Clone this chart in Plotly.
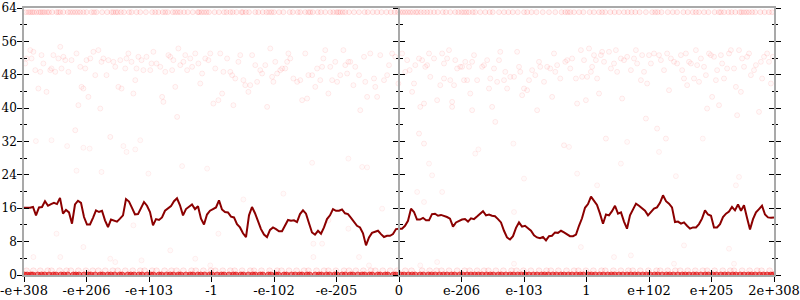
import numpy as np
import plotly.graph_objects as go

tick_pos = list(range(13))
tick_text = ["-e+308", "-e+206", "-e+103", "-1", "-e-102", "-e-205", "0",
             "e-206", "e-103", "1", "e+102", "e+205", "2e+308"]
y_ticks = [0, 8, 16, 24, 32, 40, 48, 56, 64]

line_vals = [
    16.1, 16.1, 16.1, 16.3, 14.3, 16.2, 16.3, 17.7, 16.6, 17.0,
    17.3, 17.0, 18.5, 14.7, 15.6, 15.0, 12.3, 16.9, 17.8, 17.3,
    13.9, 12.1, 12.1, 13.7, 15.5, 15.1, 15.4, 13.1, 11.5, 13.3,
    13.1, 12.8, 13.5, 14.3, 18.2, 17.6, 16.1, 14.5, 14.6, 16.2,
    17.5, 16.6, 15.1, 11.9, 13.4, 13.2, 13.8, 15.4, 15.9, 16.5,
    17.7, 18.4, 16.7, 14.3, 15.8, 16.4, 16.9, 15.8, 16.5, 13.5,
    12.1, 14.5, 15.4, 15.8, 16.2, 17.9, 15.7, 15.1, 15.0, 14.0,
    13.8, 12.2, 11.4, 10.0, 9.1, 14.3, 16.3, 14.8, 13.0, 11.0,
    9.7, 9.1, 10.8, 11.4, 11.0, 10.5, 10.5, 11.9, 13.2, 13.0,
    13.1, 12.7, 14.6, 15.5, 14.7, 12.4, 10.2, 9.7, 10.6, 9.9,
    11.4, 13.4, 14.3, 15.8, 15.4, 15.4, 15.7, 14.8, 14.6, 13.7,
    12.7, 11.8, 11.4, 10.0, 7.1, 9.0, 10.1, 10.3, 10.6, 9.8,
    9.1, 9.4, 9.4, 9.8, 11.0, 11.1, 11.1, 11.8, 13.0, 15.9,
    15.1, 13.3, 13.3, 13.7, 13.1, 13.1, 14.6, 14.7, 14.2, 14.4,
    14.2, 13.9, 13.5, 11.6, 12.6, 13.0, 13.3, 13.4, 12.8, 13.6,
    13.4, 14.0, 14.7, 15.3, 14.3, 14.5, 14.2, 14.1, 13.4, 12.6,
    10.6, 9.0, 8.5, 9.3, 11.3, 12.6, 11.6, 11.8, 11.2, 10.6,
    9.5, 9.0, 8.8, 9.1, 8.3, 9.3, 9.4, 10.2, 10.1, 10.6,
    10.2, 9.8, 9.3, 9.3, 9.7, 11.8, 13.6, 16.1, 17.0, 18.8,
    17.7, 16.8, 14.7, 12.3, 14.5, 14.3, 15.3, 16.6, 14.7, 15.0,
    12.8, 11.1, 14.3, 15.7, 17.1, 16.6, 15.9, 15.4, 14.3, 15.0,
    15.9, 16.2, 17.3, 19.1, 17.7, 17.1, 16.2, 12.7, 12.8, 12.3,
    12.6, 11.8, 11.1, 11.4, 11.4, 12.2, 13.5, 15.5, 14.5, 14.2,
    11.4, 11.4, 12.2, 13.9, 14.7, 15.2, 16.3, 15.5, 16.9, 15.4,
    16.7, 13.7, 10.9, 13.4, 15.0, 15.8, 16.6, 14.5, 13.8, 13.7, 13.8,
]

top_band_x = [
    0.03, 0.07, 0.1, 0.13, 0.16, 0.2, 0.24, 0.27, 0.3, 0.33, 0.37, 0.4, 0.45, 0.52, 0.55, 0.58,
    0.63, 0.7, 0.74, 0.78, 0.82, 0.86, 0.9, 0.95, 1.0, 1.08, 1.12, 1.16, 1.25, 1.33, 1.4, 1.43,
    1.47, 1.5, 1.55, 1.6, 1.68, 1.72, 1.8, 1.86, 1.95, 2.05, 2.1, 2.15, 2.22, 2.26, 2.3, 2.38,
    2.42, 2.46, 2.5, 2.56, 2.62, 2.7, 2.78, 2.8, 2.84, 2.88, 2.92, 2.96, 3.05, 3.12, 3.2, 3.24,
    3.3, 3.34, 3.4, 3.48, 3.5, 3.55, 3.6, 3.7, 3.75, 3.82, 3.88, 3.92, 3.96, 4.0, 4.08, 4.15,
    4.25, 4.3, 4.38, 4.42, 4.5, 4.55, 4.58, 4.62, 4.7, 4.75, 4.82, 4.9, 4.95, 5.0, 5.03, 5.06,
    5.1, 5.14, 5.2, 5.28, 5.36, 5.45, 5.5, 5.58, 5.65, 5.72, 5.8, 5.87, 5.93, 5.98,
    6.02, 6.06, 6.1, 6.14, 6.18, 6.22, 6.27, 6.3, 6.35, 6.4, 6.45, 6.5, 6.56, 6.62, 6.7, 6.75,
    6.82, 6.9, 6.95, 7.0, 7.04, 7.08, 7.12, 7.18, 7.22, 7.3, 7.38, 7.45, 7.5, 7.6, 7.68, 7.75,
    7.82, 7.9, 8.0, 8.05, 8.12, 8.2, 8.3, 8.4, 8.5, 8.6, 8.66, 8.7, 8.74, 8.8, 8.88, 8.95,
    9.05, 9.12, 9.2, 9.25, 9.3, 9.38, 9.45, 9.52, 9.6, 9.66, 9.72, 9.78, 9.85, 9.95, 10.05, 10.1,
    10.14, 10.2, 10.3, 10.38, 10.45, 10.55, 10.62, 10.7, 10.75, 10.8, 10.88, 10.95, 11.05, 11.12,
    11.15, 11.2, 11.27, 11.32, 11.38, 11.45, 11.48, 11.52, 11.56, 11.6, 11.65, 11.7, 11.78, 11.85,
    11.92, 11.97,
]
top_band_y = 63

zero_band_x = [
    0.01, 0.05, 0.11, 0.14, 0.22, 0.28, 0.33, 0.4, 0.47, 0.51, 0.59, 0.64, 0.7, 0.79, 0.83, 0.88,
    0.96, 1.03, 1.07, 1.14, 1.22, 1.26, 1.34, 1.39, 1.45, 1.53, 1.57, 1.66, 1.71, 1.76, 1.84, 1.89,
    1.97, 2.03, 2.07, 2.16, 2.2, 2.28, 2.34, 2.39, 2.47, 2.51, 2.59, 2.66, 2.7, 2.78, 2.83, 2.89,
    2.97, 3.01, 3.09, 3.16, 3.2, 3.28, 3.35, 3.39, 3.47, 3.51, 3.59, 3.66, 3.7, 3.78, 3.82, 3.91,
    3.95, 4.03, 4.07, 4.16, 4.2, 4.28, 4.34, 4.41, 4.45, 4.53, 4.57, 4.66, 4.72, 4.76, 4.84, 4.89,
    4.97, 5.01, 5.09, 5.14, 5.22, 5.26, 5.34, 5.41, 5.45, 5.53, 5.57, 5.66, 5.7, 5.78, 5.82, 5.91,
    5.95, 6.03, 6.08, 6.15, 6.21, 6.26, 6.34, 6.39, 6.47, 6.52, 6.58, 6.65, 6.71, 6.77, 6.84, 6.89,
    6.97, 7.02, 7.09, 7.15, 7.21, 7.27, 7.33, 7.4, 7.46, 7.51, 7.59, 7.64, 7.71, 7.78, 7.83, 7.9,
    7.96, 8.02, 8.08, 8.15, 8.21, 8.28, 8.33, 8.39, 8.46, 8.52, 8.59, 8.64, 8.71, 8.77, 8.84, 8.9,
    8.95, 9.03, 9.08, 9.14, 9.21, 9.27, 9.34, 9.4, 9.45, 9.52, 9.58, 9.65, 9.71, 9.77, 9.83, 9.9,
    9.96, 10.02, 10.09, 10.14, 10.21, 10.28, 10.33, 10.39, 10.46, 10.53, 10.58, 10.64, 10.71, 10.76,
    10.83, 10.9, 10.95, 11.02, 11.08, 11.15, 11.21, 11.27, 11.34, 11.39, 11.46, 11.52, 11.59, 11.64,
    11.7, 11.77, 11.83, 11.89, 11.95, 11.99,
]
zero_band_y = 0

one_band_x = [
    0.04, 0.15, 0.26, 0.38, 0.44, 0.57, 0.68, 0.75, 0.87, 0.99, 1.1, 1.19, 1.3, 1.42, 1.5, 1.62,
    1.74, 1.86, 1.93, 2.05, 2.12, 2.25, 2.36, 2.44, 2.55, 2.68, 2.75, 2.87, 2.99, 3.06, 3.18, 3.3,
    3.37, 3.49, 3.62, 3.68, 3.8, 3.93, 4.05, 4.12, 4.24, 4.36, 4.48, 4.55, 4.68, 4.8, 4.87, 4.99,
    5.12, 5.2, 5.31, 5.43, 5.55, 5.62, 5.74, 5.86, 5.97, 6.1, 6.2, 6.37, 6.49, 6.6, 6.68, 6.8, 6.93,
    7.05, 7.13, 7.25, 7.36, 7.43, 7.55, 7.67, 7.8, 7.88, 7.99, 8.11, 8.24, 8.36, 8.43, 8.55, 8.68,
    8.8, 8.87, 8.99, 9.11, 9.24, 9.3, 9.43, 9.55, 9.67, 9.74, 9.86, 9.99, 10.12, 10.18, 10.3, 10.42,
    10.5, 10.62, 10.74, 10.86, 10.93, 11.05, 11.18, 11.3, 11.36, 11.49, 11.61, 11.73, 11.8, 11.93,
]
one_band_y = 1

cloud_x = [
    0.02, 0.04, 0.10, 0.12, 0.18, 0.15, 0.23, 0.26, 0.28, 0.31, 0.36, 0.42, 0.44, 0.47, 0.50, 0.55,
    0.58, 0.60, 0.63, 0.66, 0.71, 0.76, 0.82, 0.84, 0.87, 0.90, 0.92, 0.95, 0.98, 1.00, 1.03, 1.06,
    1.11, 1.14, 1.19, 1.22, 1.24, 1.27, 1.32, 1.35, 1.38, 1.43, 1.46, 1.51, 1.54, 1.56, 1.62, 1.64,
    1.67, 1.72, 1.75, 1.78, 1.80, 1.83, 1.88, 1.91, 1.96, 2.02, 2.04, 2.07, 2.12, 2.18, 2.21, 2.23,
    2.26, 2.31, 2.34, 2.37, 2.39, 2.42, 2.45, 2.47, 2.50, 2.55, 2.58, 2.61, 2.66, 2.69, 2.74, 2.79,
    2.82, 2.85, 2.90, 2.95, 2.98, 3.03, 3.06, 3.11, 3.14, 3.17, 3.19, 3.25, 3.30, 3.33, 3.35, 3.38,
    3.43, 3.46, 3.51, 3.54, 3.59, 3.62, 3.65, 3.70, 3.73, 3.78, 3.81, 3.86, 3.89, 3.94, 3.97, 3.99,
    4.02, 4.05, 4.10, 4.13, 4.18, 4.21, 4.23, 4.26, 4.31, 4.37, 4.42, 4.45, 4.50, 4.53, 4.55, 4.61,
    4.66, 4.69, 4.74, 4.77, 4.79, 4.82, 4.87, 4.90, 4.93, 4.98, 5.01, 5.06, 5.11, 5.14, 5.17, 5.19,
    5.22, 5.27, 5.30, 5.36, 5.38, 5.44, 5.46, 5.49, 5.54, 5.60, 5.62, 5.65, 5.70, 5.76, 5.81, 5.84,
    5.89, 5.94, 5.99,
    6.05, 6.10, 6.13, 6.17, 6.21, 6.24, 6.26, 6.32, 6.32, 6.34, 6.37, 6.40, 6.40, 6.42, 6.45, 6.48,
    6.50, 6.56, 6.61, 6.66, 6.69, 6.72, 6.72, 6.77, 6.80, 6.82, 6.85, 6.85, 6.88, 6.90, 6.93, 6.98,
    7.01, 7.04, 7.06, 7.09, 7.12, 7.14, 7.17, 7.17, 7.20, 7.25, 7.33, 7.36, 7.41, 7.44, 7.46, 7.49,
    7.52, 7.54, 7.57, 7.60, 7.62, 7.68, 7.70, 7.73, 7.78, 7.84, 7.89, 7.92, 7.94, 7.97, 8.00, 8.05,
    8.08, 8.13, 8.18, 8.21, 8.24, 8.26, 8.32, 8.37, 8.42, 8.45, 8.48, 8.50, 8.53, 8.58, 8.64, 8.66,
    8.69, 8.74, 8.77, 8.83, 8.85, 8.91, 8.93, 8.96, 8.99, 9.01, 9.04, 9.07, 9.09, 9.12, 9.15, 9.17,
    9.20, 9.23, 9.25, 9.28, 9.31, 9.36, 9.39, 9.44, 9.47, 9.49, 9.55, 9.57, 9.60, 9.65, 9.71, 9.76,
    9.79, 9.81, 9.87, 9.89, 9.92, 9.95, 9.97, 10.00, 10.03, 10.08, 10.13, 10.16, 10.19, 10.24, 10.27,
    10.29, 10.32, 10.35, 10.40, 10.45, 10.51, 10.53, 10.56, 10.59, 10.61, 10.64, 10.67, 10.72, 10.75,
    10.77, 10.80, 10.83, 10.88, 10.91, 10.93, 10.96, 10.99, 11.01, 11.04, 11.07, 11.09, 11.12, 11.15,
    11.17, 11.20, 11.25, 11.28, 11.31, 11.36, 11.39, 11.41, 11.44, 11.47, 11.49, 11.52, 11.57, 11.60,
    11.63, 11.68, 11.71, 11.76, 11.79, 11.81, 11.84, 11.89, 11.92, 11.95, 11.98,
]
cloud_y = [
    50.7, 51.9, 53.9, 51.9, 49.1, 53.5, 44.7, 48.7, 52.7, 50.7, 43.9, 49.1, 49.5, 52.7, 48.7, 51.9,
    54.7, 49.5, 52.3, 51.5, 48.7, 51.5, 34.7, 53.1, 40.7, 49.9, 45.1, 44.7, 49.5, 51.5, 42.7, 51.9,
    53.5, 47.9, 53.9, 39.9, 51.1, 51.9, 47.9, 51.5, 33.1, 51.1, 49.9, 45.1, 51.5, 44.7, 49.5, 51.9,
    53.1, 51.1, 43.5, 46.7, 49.5, 52.3, 51.5, 49.1, 52.3, 49.1, 50.7, 53.5, 50.7, 49.9, 42.7, 41.5,
    48.7, 52.7, 52.3, 49.1, 51.5, 45.1, 37.9, 54.3, 50.3, 51.1, 52.7, 49.1, 51.9, 49.9, 53.1, 50.7,
    45.9, 48.3, 51.9, 51.5, 53.1, 41.1, 49.5, 41.9, 53.1, 43.5, 48.7, 51.9, 48.7, 47.9, 40.7, 47.1,
    51.1, 52.7, 46.7, 45.5, 43.9, 45.5, 52.7, 50.3, 46.3, 49.1, 48.3, 50.3, 40.3, 54.3, 47.5, 46.3,
    51.1, 48.3, 49.1, 49.5, 49.5, 51.1, 53.1, 51.9, 47.1, 46.3, 46.7, 41.9, 53.1, 42.3, 47.9, 47.9,
    45.1, 49.5, 46.7, 49.9, 51.9, 53.9, 43.5, 49.9, 46.7, 51.1, 46.3, 47.9, 53.9, 50.3, 48.3, 51.1,
    51.1, 45.5, 49.9, 47.9, 39.5, 52.3, 46.3, 42.7, 53.1, 47.1, 45.1, 42.7, 52.7, 46.7, 47.9, 50.3,
    53.1, 52.3, 45.9,
    53.1, 48.7, 51.5, 49.1, 43.9, 45.9, 50.3, 51.9, 33.9, 40.3, 51.5, 41.1, 31.5, 49.9, 50.3, 53.1,
    47.5, 51.9, 41.9, 45.5, 53.1, 50.7, 47.1, 51.9, 53.9, 46.7, 41.5, 40.3, 45.5, 51.5, 49.5, 49.9,
    49.9, 46.7, 51.1, 46.7, 49.9, 43.5, 39.5, 51.1, 52.7, 46.7, 49.9, 50.3, 51.5, 44.7, 47.1, 40.3,
    49.5, 36.7, 46.3, 51.5, 53.5, 46.7, 48.7, 44.7, 47.5, 47.5, 53.5, 49.9, 48.7, 43.1, 44.7, 44.3,
    46.7, 49.1, 47.9, 39.5, 51.1, 49.9, 46.3, 49.9, 49.5, 42.7, 53.1, 48.7, 50.3, 47.1, 31.1, 51.1,
    51.5, 49.5, 51.9, 47.1, 41.1, 53.9, 47.5, 51.5, 41.9, 47.5, 54.3, 48.7, 49.9, 52.7, 51.5, 47.1,
    43.5, 52.7, 53.5, 51.1, 32.7, 53.5, 49.5, 50.7, 53.9, 48.7, 51.9, 42.3, 51.5, 52.3, 49.1, 51.9,
    53.9, 50.7, 46.7, 52.7, 48.7, 37.5, 45.9, 52.7, 50.7, 53.1, 35.1, 52.7, 51.5, 49.1, 32.7, 53.1,
    44.3, 51.9, 51.1, 50.7, 52.7, 49.1, 47.1, 53.1, 45.5, 51.1, 50.7, 47.1, 53.9, 50.3, 46.3, 51.9,
    49.9, 47.9, 39.9, 53.1, 52.7, 42.7, 52.3, 46.7, 49.1, 40.7, 52.7, 50.7, 47.1, 49.5, 53.1, 53.9,
    49.5, 45.1, 38.3, 53.9, 43.9, 51.9, 49.9, 52.3, 53.1, 47.9, 49.1, 50.3, 39.1, 51.1, 47.1, 52.3,
    53.1, 51.1, 45.9, 52.3,
]

low_x = [
    1.64, 0.84, 1.24, 1.99, 2.53, 2.93, 4.61, 5.19, 5.41, 5.49, 5.73, 5.19, 4.15, 3.51, 0.52, 3.11,
    4.63, 4.77, 0.95, 2.34, 0.15, 0.58, 1.38, 1.88, 2.74, 4.63, 1.46, 2.98, 5.36, 4.87, 5.52, 1.75,
    0.19, 0.44, 0.69, 0.95, 1.05, 1.59, 1.78, 1.86,
    7.22, 10.16, 6.48, 6.53, 8.00, 8.85, 9.55, 10.43, 11.39, 6.29, 6.69, 6.40, 7.84, 6.88, 9.17, 11.44,
    8.91, 9.44, 9.71, 10.56, 11.28, 10.40, 11.36, 7.84, 6.61, 6.34, 7.27, 7.83, 8.72, 9.65, 10.86,
]
low_y = [
    29.5, 25.0, 24.7, 24.3, 26.1, 25.5, 26.9, 27.9, 25.9, 25.8, 15.9, 11.1, 19.5, 18.1, 9.9, 9.9,
    7.5, 7.5, 6.7, 5.9, 4.3, 4.3, 3.9, 3.5, 3.9, 4.3, 3.1, 2.3, 4.3, 13.1, 2.3, 11.9,
    32.1, 32.3, 30.9, 30.5, 30.3, 30.9, 30.1, 32.3,
    29.1, 29.5, 26.7, 23.9, 23.1, 24.3, 26.7, 23.7, 21.5, 19.9, 19.9, 17.5, 15.1, 11.5, 21.5, 23.5,
    6.7, 4.3, 4.7, 7.1, 6.3, 2.7, 2.7, 2.7, 3.1, 2.3, 30.1, 31.5, 30.7, 31.9, 32.7,
]

FONT = "DejaVu Serif, serif"
AXIS_GRAY = "#a9a9a9"

fig = go.Figure()

def add_points(xs, ys, fill, line, size=5):
    fig.add_trace(go.Scatter(
        x=xs, y=ys, mode="markers", hoverinfo="skip", showlegend=False,
        marker=dict(symbol="circle", size=size, color=fill, line=dict(color=line, width=1)),
    ))

add_points(cloud_x, cloud_y, "rgba(255,0,0,0.025)", "rgba(255,0,0,0.08)")
add_points(low_x, low_y, "rgba(255,0,0,0.02)", "rgba(255,0,0,0.06)")
add_points(top_band_x, [top_band_y] * len(top_band_x), "rgba(255,0,0,0.05)", "rgba(255,0,0,0.10)")
add_points(one_band_x, [one_band_y] * len(one_band_x), "rgba(255,0,0,0.05)", "rgba(255,0,0,0.10)", 6)
add_points(zero_band_x, [zero_band_y] * len(zero_band_x), "rgba(225,20,20,0.55)", "rgba(225,20,20,0.6)", 6)

line_x = np.linspace(tick_pos[0], tick_pos[-1], len(line_vals))
fig.add_trace(go.Scatter(
    x=line_x, y=line_vals, mode="lines", hoverinfo="skip", showlegend=False,
    line=dict(color="#8b0000", width=2),
))

# helper traces so the extra tick axes are drawn
fig.add_trace(go.Scatter(x=[0], y=[0], xaxis="x2", yaxis="y", mode="markers",
                         marker=dict(opacity=0), hoverinfo="skip", showlegend=False))
for ya in ["y2", "y3", "y4"]:
    fig.add_trace(go.Scatter(x=[0], y=[0], xaxis="x", yaxis=ya, mode="markers",
                             marker=dict(opacity=0), hoverinfo="skip", showlegend=False))

xtickfont = dict(family=FONT, size=13, color="black")
ytickfont = dict(family=FONT, size=12, color="black")
common_y = dict(range=[0, 64], tickvals=y_ticks, showgrid=False, zeroline=False,
                ticklen=5, tickwidth=1, tickcolor="black", fixedrange=True, automargin=False)

fig.update_layout(
    width=800, height=300,
    margin=dict(l=24, r=26, t=8, b=25),
    paper_bgcolor="white", plot_bgcolor="white",
    xaxis=dict(range=[0, 12], tickvals=tick_pos, ticktext=tick_text, tickfont=xtickfont,
               ticks="outside", ticklen=5, tickwidth=1, tickcolor="black",
               ticklabelstandoff=-2, automargin=False,
               showline=True, linecolor=AXIS_GRAY, linewidth=1.5, mirror=True,
               showgrid=False, zeroline=False, fixedrange=True),
    xaxis2=dict(range=[0, 12], overlaying="x", anchor="y", side="bottom", automargin=False,
                tickvals=tick_pos, ticks="inside", ticklen=5, tickwidth=1, tickcolor="black",
                showticklabels=False, showline=False, showgrid=False, zeroline=False),
    yaxis=dict(**common_y, ticks="outside", tickfont=ytickfont, showline=True,
               ticklabelstandoff=-2,
               linecolor=AXIS_GRAY, linewidth=1.5, mirror="ticks",
               minor=dict(dtick=4, ticklen=2.5, tickcolor="black", ticks="outside", tick0=0)),
    yaxis2=dict(**common_y, ticks="inside", overlaying="y", anchor="x", showticklabels=False,
                showline=False, mirror="ticks",
                minor=dict(dtick=4, ticklen=2.5, tickcolor="black", ticks="inside", tick0=0)),
    yaxis3=dict(**common_y, ticks="outside", overlaying="y", anchor="free", position=0.5,
                side="left", showticklabels=False, showline=True, linecolor=AXIS_GRAY,
                linewidth=1.5,
                minor=dict(dtick=4, ticklen=2.5, tickcolor="black", ticks="outside", tick0=0)),
    yaxis4=dict(**common_y, ticks="inside", overlaying="y", anchor="free", position=0.5,
                side="left", showticklabels=False, showline=False,
                minor=dict(dtick=4, ticklen=2.5, tickcolor="black", ticks="inside", tick0=0)),
)

fig.write_html("out.html")
